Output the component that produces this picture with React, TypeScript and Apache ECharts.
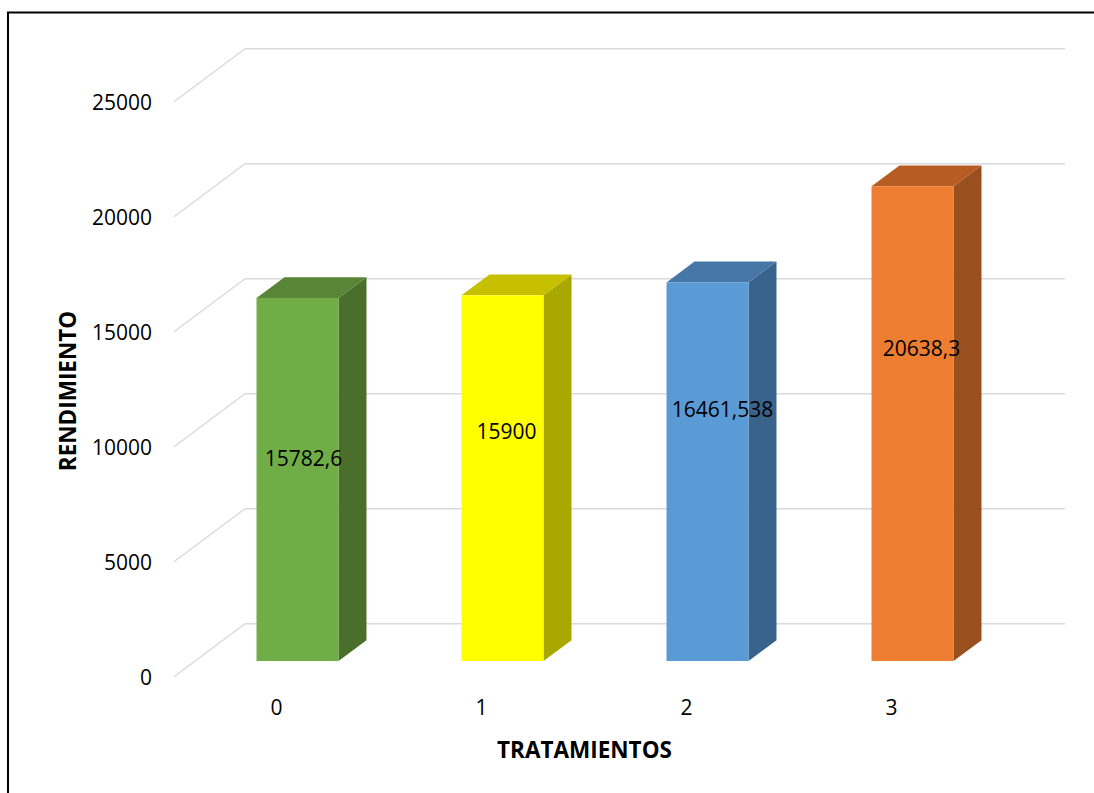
import { useEffect, useRef } from "react";
import * as echarts from "echarts";

// Treatments and their yield
const categories = ["0", "1", "2", "3"];
const rendimiento = [15782.6, 15900, 16461.538, 20638.3];

// Value axis ticks
const yTicks = [0, 5000, 10000, 15000, 20000, 25000];

// Bar face colours: front, top, side
const frontColors = ["#70AD47", "#FFFF00", "#5B9BD5", "#ED7D31"];
const topColors = ["#588636", "#C6C000", "#4677A6", "#B75D23"];
const sideColors = ["#4A6F2B", "#A8A800", "#39638A", "#9A4F1E"];

// Where each value label sits on its bar (fraction of height, x shift)
const labelHeightFrac = [0.56, 0.63, 0.665, 0.66];
const labelShiftX = [6, 4, 15, 9];

// Oblique projection of the chart depth
const DEPTH_X = 71;
const DEPTH_Y = -53;
const BAR_FRONT = 0.296;
const BAR_BACK = 0.69;

const FONT = "'Open Sans', 'Liberation Sans', sans-serif";

const fmt = (v: number) => String(v).replace(".", ",");

export default function App() {
  const ref = useRef<HTMLDivElement>(null);

  useEffect(() => {
    if (!ref.current) return;
    const chart = echarts.init(ref.current, undefined, { renderer: "svg" });

    const wallSeries = {
      type: "custom",
      silent: true,
      z: 1,
      data: yTicks.map((t) => [0, t]),
      renderItem: (params: any, api: any) => {
        const cs = params.coordSys;
        const y = api.coord([0, api.value(1)])[1];
        const x0 = cs.x;
        const lineStyle = { stroke: "#D9D9D9", lineWidth: 1.4 };
        return {
          type: "group",
          children: [
            {
              type: "line",
              shape: { x1: x0, y1: y, x2: x0 + DEPTH_X, y2: y + DEPTH_Y },
              style: lineStyle,
            },
            {
              type: "line",
              shape: {
                x1: x0 + DEPTH_X,
                y1: y + DEPTH_Y,
                x2: x0 + cs.width + DEPTH_X,
                y2: y + DEPTH_Y,
              },
              style: lineStyle,
            },
          ],
        };
      },
    };

    const barSeries = {
      type: "custom",
      z: 2,
      data: rendimiento.map((v, i) => [i, v]),
      renderItem: (params: any, api: any) => {
        const i = api.value(0);
        const v = api.value(1);
        const idx = params.dataIndex;
        const base = api.coord([i, 0]);
        const top = api.coord([i, v]);
        const band = api.size([1, 0])[0];
        const hw = band * 0.2;
        const fx = base[0] + DEPTH_X * BAR_FRONT;
        const yB = base[1] + DEPTH_Y * BAR_FRONT;
        const yT = top[1] + DEPTH_Y * BAR_FRONT;
        const dx = DEPTH_X * (BAR_BACK - BAR_FRONT);
        const dy = DEPTH_Y * (BAR_BACK - BAR_FRONT);
        const labelY =
          api.coord([i, v * labelHeightFrac[idx]])[1] + DEPTH_Y * BAR_FRONT;
        return {
          type: "group",
          children: [
            {
              type: "polygon",
              shape: {
                points: [
                  [fx + hw, yB],
                  [fx + hw, yT],
                  [fx + hw + dx, yT + dy],
                  [fx + hw + dx, yB + dy],
                ],
              },
              style: { fill: sideColors[idx] },
            },
            {
              type: "polygon",
              shape: {
                points: [
                  [fx - hw, yT],
                  [fx + hw, yT],
                  [fx + hw + dx, yT + dy],
                  [fx - hw + dx, yT + dy],
                ],
              },
              style: { fill: topColors[idx] },
            },
            {
              type: "rect",
              shape: { x: fx - hw, y: yT, width: hw * 2, height: yB - yT },
              style: { fill: frontColors[idx] },
            },
            {
              type: "text",
              x: fx + labelShiftX[idx],
              y: labelY,
              style: {
                text: fmt(v),
                fill: "#000000",
                fontSize: 21,
                fontFamily: FONT,
                align: "center",
                verticalAlign: "middle",
              },
            },
          ],
        };
      },
    };

    chart.setOption({
      animation: false,
      backgroundColor: "#ffffff",
      grid: {
        left: 174,
        top: 101.7,
        width: 820,
        height: 575,
        outerBoundsMode: "none",
      },
      xAxis: {
        type: "category",
        data: categories,
        axisLine: { show: false },
        axisTick: { show: false },
        splitLine: { show: false },
        axisLabel: {
          margin: 20,
          fontSize: 21,
          fontFamily: FONT,
          color: "#000000",
        },
      },
      yAxis: {
        type: "value",
        min: yTicks[0],
        max: yTicks[yTicks.length - 1],
        interval: yTicks[1] - yTicks[0],
        axisLine: { show: false },
        axisTick: { show: false },
        splitLine: { show: false },
        axisLabel: {
          margin: 22,
          fontSize: 21,
          fontFamily: FONT,
          color: "#000000",
          formatter: (v: number) => String(v),
        },
      },
      graphic: [
        {
          type: "rect",
          shape: { x: 8, y: 12.5, width: 1300, height: 1000 },
          style: { fill: "none", stroke: "#000000", lineWidth: 2 },
          silent: true,
        },
        {
          type: "text",
          x: 67,
          y: 391,
          rotation: Math.PI / 2,
          style: {
            text: "RENDIMIENTO",
            fontSize: 22.5,
            fontWeight: "bold",
            fontFamily: FONT,
            fill: "#000000",
            align: "center",
            verticalAlign: "middle",
          },
        },
        {
          type: "text",
          x: 584.5,
          y: 749,
          style: {
            text: "TRATAMIENTOS",
            fontSize: 22.5,
            fontWeight: "bold",
            fontFamily: FONT,
            fill: "#000000",
            align: "center",
            verticalAlign: "middle",
          },
        },
      ],
      series: [wallSeries, barSeries],
    });

    return () => chart.dispose();
  }, []);

  return (
    <div
      ref={ref}
      style={{ position: "fixed", left: 0, top: 0, width: 1094, height: 793 }}
    />
  );
}
